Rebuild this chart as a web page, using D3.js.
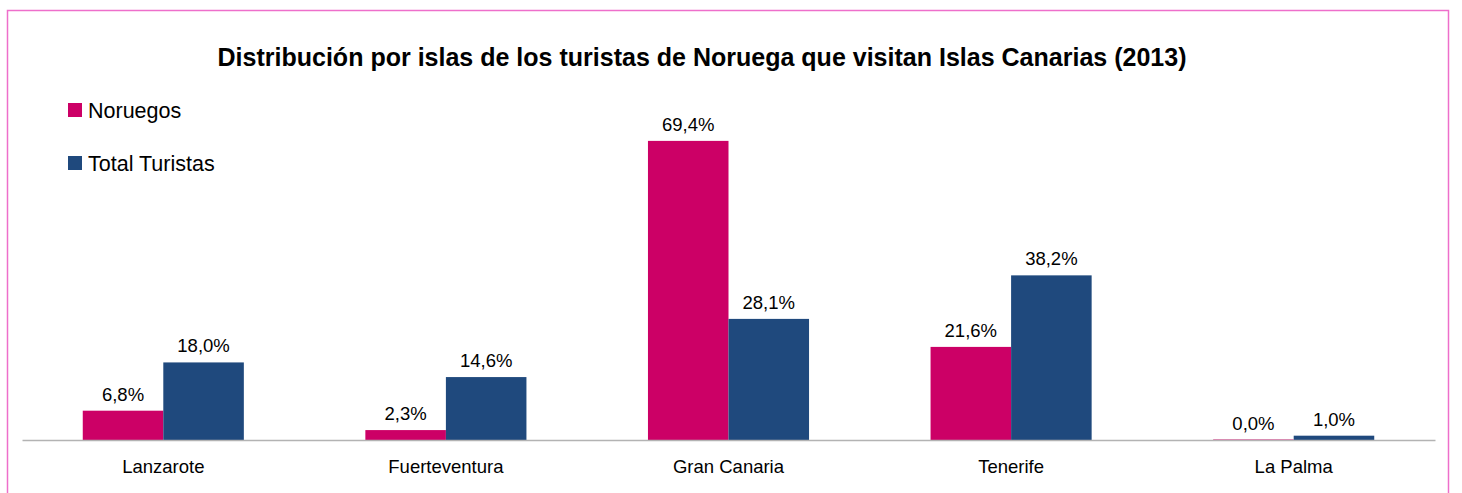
<!DOCTYPE html>
<html>
<head>
<meta charset="utf-8">
<script src="https://cdn.jsdelivr.net/npm/d3@7"></script>
<style>
  body { margin: 0; background: #fff; }
  text { font-family: "Liberation Sans", Arial, sans-serif; fill: #000; }
</style>
</head>
<body>
<div id="chart"></div>
<script>
// data
const islands = ["Lanzarote", "Fuerteventura", "Gran Canaria", "Tenerife", "La Palma"];
const noruegos = [6.8, 2.3, 69.4, 21.6, 0.0];
const totalTuristas = [18.0, 14.6, 28.1, 38.2, 1.0];
const seriesNames = ["Noruegos", "Total Turistas"];
const colors = ["#cc0066", "#1f497d"];

const W = 1462, H = 493;

const svg = d3.select("#chart")
  .append("svg")
  .attr("width", W)
  .attr("height", H);

// chart frame
svg.append("rect")
  .attr("x", 7.5).attr("y", 10.5)
  .attr("width", 1441).attr("height", 500)
  .attr("fill", "none")
  .attr("stroke", "#ee6fcb")
  .attr("stroke-width", 1.5);

// title, squeezed to the width it has in the original
const title = svg.append("text")
  .attr("x", 702).attr("y", 66)
  .attr("text-anchor", "middle")
  .style("font-weight", "bold")
  .style("font-size", "22px")
  .text("Distribución por islas de los turistas de Noruega que visitan Islas Canarias (2013)");
const tw = title.node().getComputedTextLength();
title.style("font-size", (22 * 969 / tw).toFixed(2) + "px");

const plot = { left: 22, right: 1435, base: 440 };

const x = d3.scaleBand()
  .domain(islands)
  .range([plot.left, plot.right]);

const barW = x.bandwidth() * 0.285;
const x1 = d3.scaleBand()
  .domain(seriesNames)
  .range([x.bandwidth() / 2 - barW, x.bandwidth() / 2 + barW]);

const y = d3.scaleLinear()
  .domain([0, 80])
  .range([plot.base, plot.base - 80 * 4.31]);

const rows = islands.map((name, i) => ({
  name,
  values: [noruegos[i], totalTuristas[i]]
}));

const groups = svg.selectAll(".grp")
  .data(rows)
  .join("g")
  .attr("class", "grp")
  .attr("transform", d => "translate(" + x(d.name) + ",0)");

const cells = groups.selectAll(".bar")
  .data(d => d.values.map((v, j) => ({ key: seriesNames[j], v, j })))
  .join("g")
  .attr("class", "bar");

cells.append("rect")
  .attr("x", d => x1(d.key))
  .attr("y", d => d.v > 0 ? y(d.v) : plot.base - 1)
  .attr("width", x1.bandwidth())
  .attr("height", d => d.v > 0 ? y(0) - y(d.v) : 1)
  .attr("fill", d => colors[d.j])
  .attr("opacity", d => d.v > 0 ? 1 : 0.5);

cells.append("text")
  .attr("x", d => x1(d.key) + x1.bandwidth() / 2)
  .attr("y", d => y(d.v) - 10)
  .attr("text-anchor", "middle")
  .style("font-size", "18.5px")
  .text(d => d.v.toFixed(1).replace(".", ",") + "%");

// axis line + category labels
const axis = svg.append("g")
  .attr("transform", "translate(0," + plot.base + ")")
  .call(d3.axisBottom(x).tickSize(0).tickPadding(20));
axis.select(".domain").attr("stroke", "#b3b3b3").attr("stroke-width", 1.5);
axis.selectAll("text")
  .style("font-family", '"Liberation Sans", Arial, sans-serif')
  .style("font-size", "18.5px")
  .attr("fill", "#000");

// legend
const legend = svg.selectAll(".leg")
  .data(seriesNames)
  .join("g")
  .attr("class", "leg")
  .attr("transform", (d, i) => "translate(68," + (103 + i * 53) + ")");

legend.append("rect")
  .attr("width", 14).attr("height", 14)
  .attr("fill", (d, i) => colors[i]);

legend.append("text")
  .attr("x", 20).attr("y", 15)
  .style("font-size", "21.5px")
  .text(d => d);
</script>
</body>
</html>
